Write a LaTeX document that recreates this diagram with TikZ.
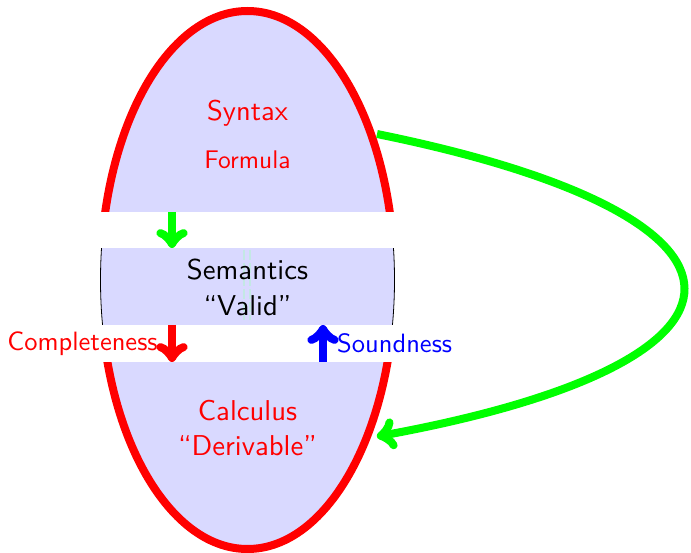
\documentclass[tikz,border=0pt]{standalone}
\newcommand\mylbl[2]{\scalebox{#1}{\sffamily #2}}
\newcommand\mytwo[3]{\scalebox{#1}{\sffamily\fontsize{10}{12.5}\selectfont\begin{tabular}[t]{@{}c@{}}#2\\#3\end{tabular}}}
\definecolor{faint}{RGB}{195,232,228}
\tikzset{
  txt/.style={inner sep=0pt, anchor=base},
  shaft/.style={line width=8pt, line cap=butt},
  band/.style={fill=white, draw=none},
  tiphead/.pic={\draw[line width=8pt, line cap=round, line join=round]
     (-8.7,11.6) .. controls (-8,7.25) and (0,0.73) .. (2.2,0)
     .. controls (0,-0.73) and (-8,-7.25) .. (-8.7,-11.6);}
}
\begin{document}
\begin{tikzpicture}[x=1pt,y=-1pt]
\useasboundingbox (0,0) rectangle (691,553);
% main ellipse
\draw[red, line width=8pt, fill=blue!15] (247.5,280) ellipse [x radius=147, y radius=269];
% white band
\fill[band] (85,212) rectangle (410,362);
% middle part
\begin{scope}
\clip (85,249) rectangle (410,325);
\draw[black, line width=0.8pt, fill=blue!15] (247.5,280) ellipse [x radius=147, y radius=269];
\end{scope}
\draw[faint, line width=1.2pt, dash pattern=on 10pt off 3pt] (244,250) -- (244,320);
\draw[faint, line width=1.2pt, dash pattern=on 10pt off 3pt] (250,250) -- (250,320);
% texts
\node[txt, red] (syntax) at (247.5,121) {\mylbl{2.85}{Syntax}};
\node[txt, red] (formula) at (247.5,169) {\mylbl{2.55}{Formula}};
\node[txt, black] (semantics) at (247.5,279.3) {\mytwo{2.87}{Semantics}{“Valid”}};
\node[txt, red] (calculus) at (247.5,420) {\mytwo{2.87}{Calculus}{“Derivable”}};
\node[txt, red] (completeness) at (82.5,350.5) {\mylbl{2.65}{Completeness}};
\node[txt, blue, anchor=base west] (soundness) at (337,352.5) {\mylbl{2.65}{Soundness}};
% arrow coordinates
\coordinate (g1) at (172,212);
\coordinate (g2) at (172,241.8);
\coordinate (r1) at (172,325);
\coordinate (r2) at (172,355.8);
\coordinate (b1) at (323,362);
\coordinate (b2) at (323,331.2);
\coordinate (ca) at (377,134);
\coordinate (cb) at (383,435.4);
% arrows
\draw[shaft, green] (g1) -- (g2);
\pic[green, rotate=-90] at (g2) {tiphead};
\draw[shaft, red] (r1) -- (r2);
\pic[red, rotate=-90] at (r2) {tiphead};
\draw[shaft, blue] (b1) -- (b2);
\pic[blue, rotate=90] at (b2) {tiphead};
\draw[shaft, green] (ca) .. controls (786,217) and (786,362) .. (cb);
\pic[green, rotate=190.3] at (cb) {tiphead};
\end{tikzpicture}
\end{document}
